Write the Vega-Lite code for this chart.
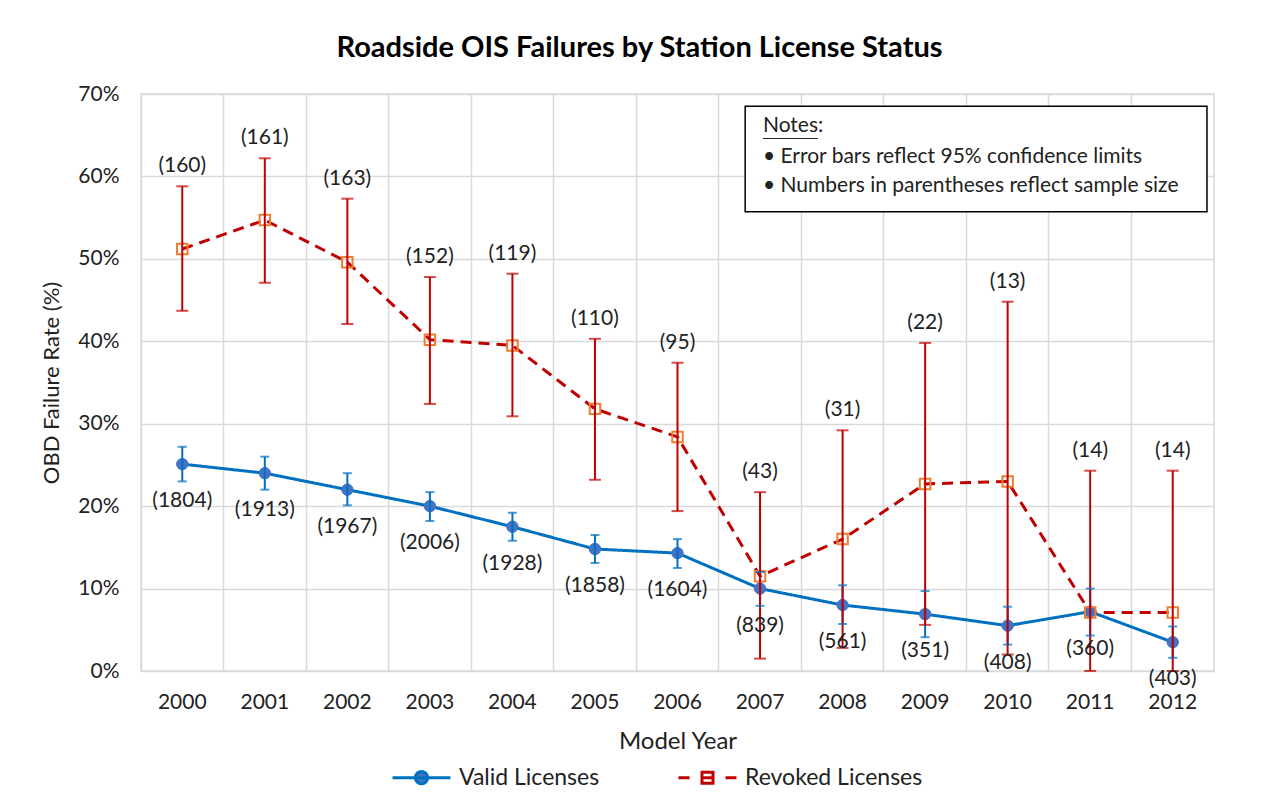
{
  "$schema": "https://vega.github.io/schema/vega-lite/v6.json",
  "width": 1073,
  "height": 577,
  "autosize": {"type": "none"},
  "padding": {"left": 141, "top": 94, "right": 57, "bottom": 138},
  "background": "white",
  "title": {"text": "Roadside OIS Failures by Station License Status", "font": "Lato", "fontSize": 29, "fontWeight": "bold", "color": "#000000", "anchor": "middle", "dx": -38, "offset": 20},
  "config": {
    "view": {"stroke": "#d9d9d9", "strokeWidth": 1.5},
    "font": "Lato",
    "axis": {"labelFont": "Lato", "titleFont": "Lato", "labelColor": "#222222", "titleColor": "#222222", "titleFontWeight": "normal", "gridColor": "#d9d9d9", "gridWidth": 1.5, "domain": false, "ticks": false}
  },
  "layer": [
    {
      "data": {"values": [
        {"year": "2000", "series": "Valid Licenses", "rate": 25.1, "lo": 23.0, "hi": 27.2, "n": 1804},
        {"year": "2001", "series": "Valid Licenses", "rate": 24.0, "lo": 22.0, "hi": 26.0, "n": 1913},
        {"year": "2002", "series": "Valid Licenses", "rate": 22.0, "lo": 20.1, "hi": 24.0, "n": 1967},
        {"year": "2003", "series": "Valid Licenses", "rate": 20.0, "lo": 18.2, "hi": 21.7, "n": 2006},
        {"year": "2004", "series": "Valid Licenses", "rate": 17.5, "lo": 15.8, "hi": 19.2, "n": 1928},
        {"year": "2005", "series": "Valid Licenses", "rate": 14.8, "lo": 13.1, "hi": 16.5, "n": 1858},
        {"year": "2006", "series": "Valid Licenses", "rate": 14.3, "lo": 12.5, "hi": 16.0, "n": 1604},
        {"year": "2007", "series": "Valid Licenses", "rate": 10.0, "lo": 7.9, "hi": 12.0, "n": 839},
        {"year": "2008", "series": "Valid Licenses", "rate": 8.0, "lo": 5.7, "hi": 10.4, "n": 561},
        {"year": "2009", "series": "Valid Licenses", "rate": 6.9, "lo": 4.1, "hi": 9.7, "n": 351},
        {"year": "2010", "series": "Valid Licenses", "rate": 5.5, "lo": 3.2, "hi": 7.8, "n": 408},
        {"year": "2011", "series": "Valid Licenses", "rate": 7.2, "lo": 4.3, "hi": 10.0, "n": 360},
        {"year": "2012", "series": "Valid Licenses", "rate": 3.5, "lo": 1.6, "hi": 5.4, "n": 403},
        {"year": "2000", "series": "Revoked Licenses", "rate": 51.2, "lo": 43.7, "hi": 58.8, "n": 160},
        {"year": "2001", "series": "Revoked Licenses", "rate": 54.7, "lo": 47.1, "hi": 62.2, "n": 161},
        {"year": "2002", "series": "Revoked Licenses", "rate": 49.6, "lo": 42.1, "hi": 57.3, "n": 163},
        {"year": "2003", "series": "Revoked Licenses", "rate": 40.2, "lo": 32.4, "hi": 47.8, "n": 152},
        {"year": "2004", "series": "Revoked Licenses", "rate": 39.5, "lo": 30.9, "hi": 48.2, "n": 119},
        {"year": "2005", "series": "Revoked Licenses", "rate": 31.8, "lo": 23.2, "hi": 40.3, "n": 110},
        {"year": "2006", "series": "Revoked Licenses", "rate": 28.4, "lo": 19.4, "hi": 37.4, "n": 95},
        {"year": "2007", "series": "Revoked Licenses", "rate": 11.5, "lo": 1.5, "hi": 21.7, "n": 43},
        {"year": "2008", "series": "Revoked Licenses", "rate": 16.0, "lo": 2.8, "hi": 29.2, "n": 31},
        {"year": "2009", "series": "Revoked Licenses", "rate": 22.7, "lo": 5.6, "hi": 39.8, "n": 22},
        {"year": "2010", "series": "Revoked Licenses", "rate": 23.0, "lo": 2.0, "hi": 44.8, "n": 13},
        {"year": "2011", "series": "Revoked Licenses", "rate": 7.1, "lo": 0.0, "hi": 24.3, "n": 14},
        {"year": "2012", "series": "Revoked Licenses", "rate": 7.1, "lo": 0.0, "hi": 24.3, "n": 14}
      ]},
      "encoding": {
        "x": {"field": "year", "type": "ordinal", "title": "Model Year", "scale": {"paddingInner": 0, "paddingOuter": 0},
              "axis": {"labelAngle": 0, "labelFontSize": 21, "titleFontSize": 24, "labelPadding": 20, "titlePadding": 17, "bandPosition": 0, "grid": true}}
      },
      "layer": [
        {
          "mark": {"type": "line", "strokeWidth": 3},
          "encoding": {
            "y": {"field": "rate", "type": "quantitative", "title": "OBD Failure Rate (%)",
                  "scale": {"domain": [0, 70]},
                  "axis": {"values": [0, 10, 20, 30, 40, 50, 60, 70], "labelExpr": "datum.value + '%'", "labelFontSize": 21, "titleFontSize": 22, "labelPadding": 22, "titlePadding": 14}},
            "color": {"field": "series", "type": "nominal",
                      "scale": {"domain": ["Valid Licenses", "Revoked Licenses"], "range": ["#0070c0", "#c00000"]},
                      "legend": {"title": null, "orient": "none", "direction": "horizontal", "legendX": 250, "legendY": 653, "padding": 0,
                                 "symbolSize": 3364, "symbolStrokeWidth": 3, "labelFontSize": 23, "labelLimit": 400, "labelColor": "#222222", "labelOffset": 7, "columnPadding": 72,
                                 "encode": {"symbols": {"update": {
                                   "shape": {"signal": "datum.value === 'Valid Licenses' ? 'M-1,0H1M-0.21,0A0.21,0.21 0 1,1 0.21,0A0.21,0.21 0 1,1 -0.21,0Z' : 'M-1,0H-0.62M0.62,0H1M-0.19,-0.19H0.19V0.19H-0.19ZM-0.19,0H0.19'"},
                                   "fill": {"signal": "datum.value === 'Valid Licenses' ? '#4472c4' : 'transparent'"},
                                   "stroke": {"signal": "datum.value === 'Valid Licenses' ? '#0070c0' : '#c00000'"},
                                   "strokeDash": {"signal": "[1, 0]"}
                                 }}}}},
            "strokeDash": {"condition": {"test": "datum.series === 'Revoked Licenses'", "value": [11, 7]}, "value": [1, 0]}
          }
        },
        {
          "transform": [{"filter": "datum.series === 'Valid Licenses'"}],
          "mark": {"type": "point", "shape": "circle", "filled": true, "fill": "#4472c4", "stroke": "#4472c4", "strokeWidth": 1, "size": 130, "opacity": 1},
          "encoding": {"y": {"field": "rate", "type": "quantitative", "title": "OBD Failure Rate (%)"}}
        },
        {
          "transform": [{"filter": "datum.series === 'Revoked Licenses'"}],
          "mark": {"type": "point", "shape": "square", "filled": false, "fill": "transparent", "stroke": "#ed7d31", "strokeWidth": 2, "size": 110, "opacity": 1},
          "encoding": {"y": {"field": "rate", "type": "quantitative", "title": "OBD Failure Rate (%)"}}
        },
        {
          "mark": {"type": "rule", "strokeWidth": 2},
          "encoding": {
            "y": {"field": "lo", "type": "quantitative", "title": "OBD Failure Rate (%)"},
            "y2": {"field": "hi"},
            "color": {"condition": {"test": "datum.series === 'Valid Licenses'", "value": "#0070c0"}, "value": "#c00000"}
          }
        },
        {
          "mark": {"type": "tick", "thickness": 2},
          "encoding": {
            "y": {"field": "lo", "type": "quantitative", "title": "OBD Failure Rate (%)"},
            "size": {"condition": {"test": "datum.series === 'Valid Licenses'", "value": 9}, "value": 12},
            "color": {"condition": {"test": "datum.series === 'Valid Licenses'", "value": "#0070c0"}, "value": "#c00000"}
          }
        },
        {
          "mark": {"type": "tick", "thickness": 2},
          "encoding": {
            "y": {"field": "hi", "type": "quantitative", "title": "OBD Failure Rate (%)"},
            "size": {"condition": {"test": "datum.series === 'Valid Licenses'", "value": 9}, "value": 12},
            "color": {"condition": {"test": "datum.series === 'Valid Licenses'", "value": "#0070c0"}, "value": "#c00000"}
          }
        },
        {
          "transform": [{"filter": "datum.series === 'Revoked Licenses'"}],
          "mark": {"type": "text", "fontSize": 21, "color": "#222222", "baseline": "middle", "dy": -20, "text": {"expr": "'(' + datum.n + ')'"}},
          "encoding": {"y": {"field": "hi", "type": "quantitative", "title": "OBD Failure Rate (%)"}}
        },
        {
          "transform": [{"filter": "datum.series === 'Valid Licenses'"}],
          "mark": {"type": "text", "fontSize": 21, "color": "#222222", "baseline": "middle", "dy": 37, "text": {"expr": "'(' + datum.n + ')'"}},
          "encoding": {"y": {"field": "rate", "type": "quantitative", "title": "OBD Failure Rate (%)"}}
        }
      ]
    },
    {
      "data": {"values": [{}]},
      "mark": {"type": "rect", "fill": "white", "stroke": "#000000", "strokeWidth": 1.5},
      "encoding": {
        "x": {"datum": "2007", "bandPosition": 0.32},
        "x2": {"datum": "2012", "bandPosition": 0.915},
        "y": {"datum": 68.5},
        "y2": {"datum": 55.7}
      }
    },
    {
      "data": {"values": [{}]},
      "mark": {"type": "text", "text": "Notes:", "fontSize": 21, "color": "#222222", "align": "left", "baseline": "middle"},
      "encoding": {
        "x": {"datum": "2007", "bandPosition": 0.535},
        "y": {"datum": 66.1}
      }
    },
    {
      "data": {"values": [{}]},
      "mark": {"type": "rule", "stroke": "#222222", "strokeWidth": 1},
      "encoding": {
        "x": {"datum": "2007", "bandPosition": 0.535},
        "x2": {"datum": "2008", "bandPosition": 0.2},
        "y": {"datum": 64.6}
      }
    },
    {
      "data": {"values": [{}]},
      "mark": {"type": "text", "text": "• Error bars reflect 95% confidence limits", "fontSize": 21, "color": "#222222", "align": "left", "baseline": "middle"},
      "encoding": {
        "x": {"datum": "2007", "bandPosition": 0.535},
        "y": {"datum": 62.4}
      }
    },
    {
      "data": {"values": [{}]},
      "mark": {"type": "text", "text": "• Numbers in parentheses reflect sample size", "fontSize": 21, "color": "#222222", "align": "left", "baseline": "middle"},
      "encoding": {
        "x": {"datum": "2007", "bandPosition": 0.535},
        "y": {"datum": 58.8}
      }
    }
  ]
}
